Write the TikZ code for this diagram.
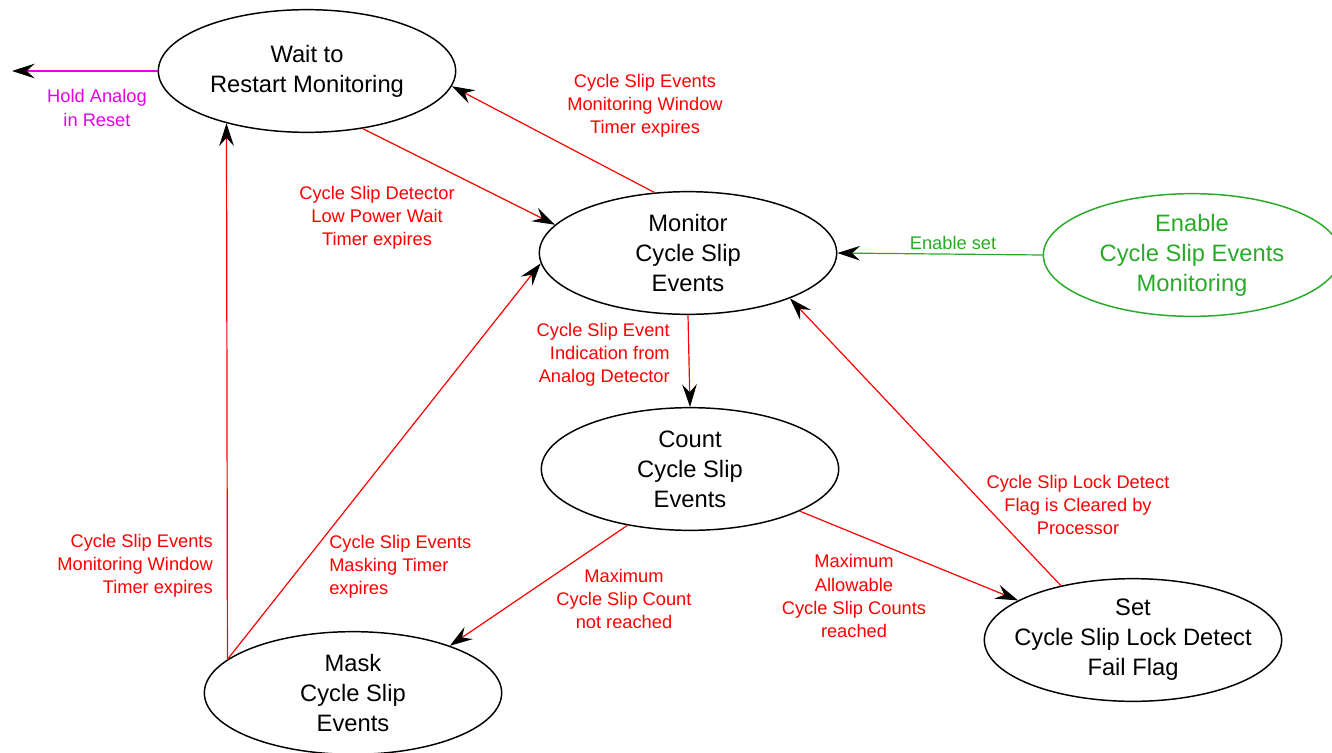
\documentclass[tikz,border=0pt]{standalone}
\usepackage{fontspec}
\setmainfont{Liberation Sans}
\usetikzlibrary{
  arrows.meta,
  shapes.geometric
}
\definecolor{condred}{RGB}{255, 0, 0}
\definecolor{holdmag}{RGB}{230, 0, 230}
\definecolor{enablegreen}{RGB}{40, 170, 40}

\tikzset{
  state/.style={ellipse, draw=black, line width=1.1pt, minimum width=223pt,
    minimum height=92pt, inner sep=0pt, align=center,
    font=\fontsize{17.8pt}{22.5pt}\selectfont},
  cond/.style={inner sep=0pt, text=condred,
    font=\fontsize{13.7pt}{17.3pt}\selectfont},
  trans/.style={->, >={Stealth[black, length=17pt, width=11pt, inset=6pt]},
    line width=0.9pt, condred}
}

\begin{document}
\begin{tikzpicture}[x=0.75pt, y=-0.75pt]
  \useasboundingbox (0,0) rectangle (1332,753);

  % states
  \node[state] (wait) at (307, 71) {Wait to\\Restart Monitoring};
  \node[state] (monitor) at (688, 253) {Monitor\\Cycle Slip\\Events};
  \node[state, draw=enablegreen, text=enablegreen] (enable) at (1192, 255) {Enable\\Cycle Slip Events\\Monitoring};
  \node[state] (count) at (690, 469) {Count\\Cycle Slip\\Events};
  \node[state] (mask) at (353, 693) {Mask\\Cycle Slip\\Events};
  \node[state] (setflag) at (1133, 640) {Set\\\makebox[0pt]{Cycle Slip Lock Detect}\\Fail Flag};
  \coordinate (hold) at (12, 71);

  % transitions
  \draw[trans, holdmag] (wait.west) -- (hold);
  \draw[trans] (wait.-46) -- (monitor.168);
  \draw[trans] (monitor.119) -- (wait.-6);
  \draw[trans, enablegreen] (enable.west) -- (monitor.east);
  \draw[trans] (monitor.south) -- (count.north);
  \draw[trans] (count.222) -- (mask.26);
  \draw[trans] (count.-21) -- (setflag.161);
  \draw[trans] (setflag.143) -- (monitor.-24);
  \draw[trans] (mask.165) -- (monitor.184);
  \draw[trans] (mask.165) -- (wait.213);

  % conditions
  \node[cond, text=holdmag, align=center] (holdlbl) at (97, 108) {Hold Analog\\in Reset};
  \node[cond, align=center] (lowpwr) at (377, 218) {Cycle Slip Detector\\Low Power Wait\\Timer expires};
  \node[cond, align=center] (windowup) at (645, 106) {Cycle Slip Events\\Monitoring Window\\Timer expires};
  \node[cond, text=enablegreen] (enset) at (953, 243) {Enable set};
  \node[cond, align=right, anchor=east] (indic) at (670, 355) {Cycle Slip Event\\Indication from\\Analog Detector};
  \node[cond, align=center] (notmax) at (624, 599) {Maximum\\Cycle Slip Count\\not reached};
  \node[cond, align=center] (ismax) at (854, 596) {Maximum\\Allowable\\Cycle Slip Counts\\reached};
  \node[cond, align=center] (cleared) at (1078, 505) {Cycle Slip Lock Detect\\Flag is Cleared by\\Processor};
  \node[cond, align=left, anchor=west] (masked) at (329, 567) {Cycle Slip Events\\Masking Timer\\expires};
  \node[cond, align=right, anchor=east] (windowlo) at (213, 566) {Cycle Slip Events\\Monitoring Window\\Timer expires};
\end{tikzpicture}
\end{document}
